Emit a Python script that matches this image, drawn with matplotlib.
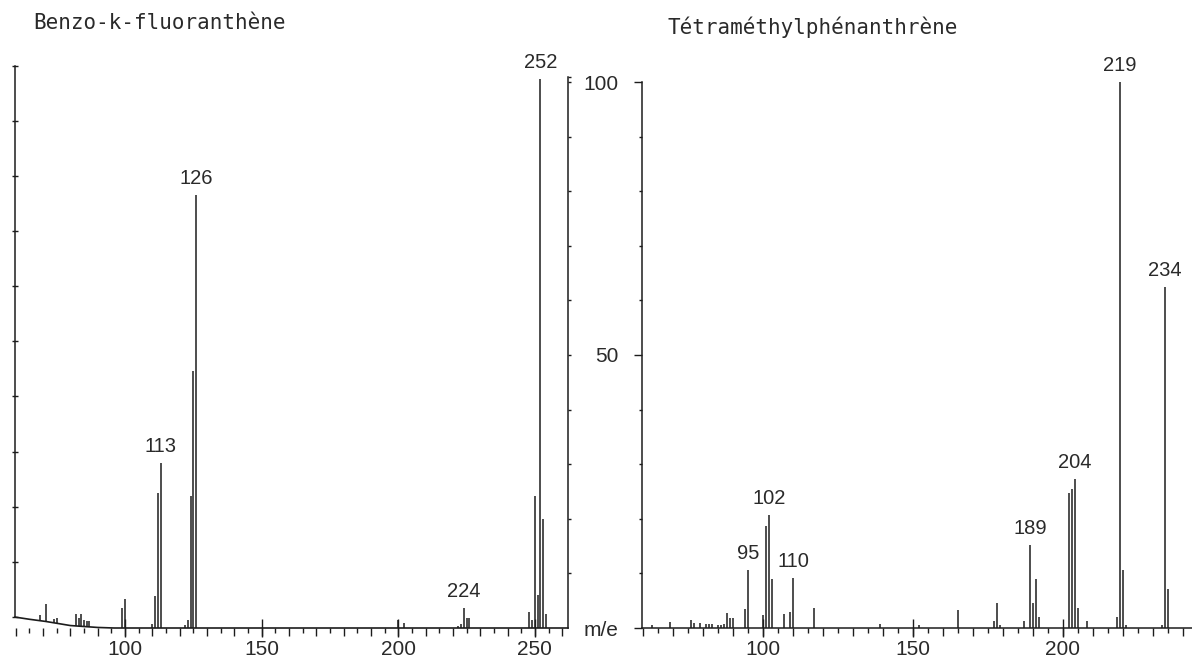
import numpy as np
import matplotlib
matplotlib.use("Agg")
import matplotlib.pyplot as plt
from matplotlib.ticker import MultipleLocator, FixedLocator

plt.rcParams['font.family'] = ['Liberation Sans', 'DejaVu Sans']

INK = '#1c1c1c'
TXT = '#2a2a2a'

# Benzo-k-fluoranthene spectrum (m/e, relative intensity)
mz_left = [69, 71, 74, 75, 82, 83, 84, 85, 86, 87, 99, 100, 110, 111, 112, 113,
           122, 123, 124, 125, 126, 200, 202, 222, 223, 224, 225, 226,
           248, 249, 250, 251, 252, 253, 254]
int_left = [2.4, 4.4, 1.6, 1.9, 2.5, 1.8, 2.5, 1.5, 1.3, 1.2, 3.7, 5.4, 0.8, 5.8, 24.7, 30.3,
            0.6, 1.4, 24.2, 47.1, 79.3, 1.5, 0.9, 0.4, 0.7, 3.7, 1.9, 1.9,
            3.0, 1.5, 24.2, 6.0, 100.5, 20.0, 2.6]
labels_left = [113, 126, 224, 252]
# drifting baseline of the recorder trace at low mass
base_mz = [59.75, 65, 71, 80, 90, 96, 262.1]
base_val = [2.0, 1.6, 1.2, 0.45, 0.1, 0.0, 0.0]

# Tetramethylphenanthrene spectrum
mz_right = [63, 69, 76, 77, 79, 81, 82, 83, 85, 86, 87, 88, 89, 90, 94, 95,
            100, 101, 102, 103, 107, 109, 110, 117, 139, 152, 165, 177, 178, 179,
            187, 189, 190, 191, 192, 202, 203, 204, 205, 208, 218, 219, 220, 221,
            233, 234, 235]
int_right = [0.5, 1.1, 1.4, 1.0, 0.9, 0.8, 0.8, 0.7, 0.5, 0.6, 0.8, 2.8, 1.9, 1.8, 3.4, 10.6,
             2.3, 18.7, 20.7, 9.0, 2.6, 3.0, 9.1, 3.7, 0.8, 0.6, 3.3, 1.2, 4.6, 0.6,
             1.2, 15.2, 4.5, 8.9, 2.0, 24.8, 25.4, 27.3, 3.6, 1.3, 2.0, 100.0, 10.6, 0.6,
             0.5, 62.5, 7.1]
labels_right = [95, 102, 110, 189, 204, 219, 234]

fig = plt.figure(figsize=(11.92, 6.58), dpi=100)
axL = fig.add_axes([15 / 1192, 30 / 658, 553 / 1192, 573.3 / 658])
axR = fig.add_axes([642 / 1192, 30 / 658, 550 / 1192, 573.3 / 658])


def x_ticks(ax, big):
    ax.xaxis.set_major_locator(MultipleLocator(10))
    ax.xaxis.set_minor_locator(MultipleLocator(5))
    ax.xaxis.set_major_formatter(lambda v, p: f"{v:.0f}" if round(v) % 50 == 0 else "")
    ax.tick_params(axis='x', which='major', direction='out', length=5.5, width=1.0,
                   color=INK, labelsize=15, labelcolor=TXT, pad=3)
    ax.tick_params(axis='x', which='minor', direction='out', length=3.5, width=1.0, color=INK)
    # the round-number ticks cross the baseline
    sec = ax.secondary_xaxis(0)
    sec.set_xticks(big)
    sec.tick_params(direction='inout', length=13, width=1.0, color=INK, labelbottom=False)
    sec.spines['bottom'].set_visible(False)


# ---- left panel
axL.set_xlim(59.75, 262.1)
axL.set_ylim(0, 105)
y0 = np.interp(mz_left, base_mz, base_val)
axL.vlines(mz_left, y0, int_left, color=INK, lw=1.1)
axL.plot(base_mz, base_val, color=INK, lw=1.2, clip_on=False)
for s in ['top', 'bottom']:
    axL.spines[s].set_visible(False)
axL.spines['left'].set_bounds(2.0, 103)
axL.spines['right'].set_bounds(0, 100.9)
for s in ['left', 'right']:
    axL.spines[s].set_color(INK)
    axL.spines[s].set_linewidth(1.1)
axL.yaxis.set_major_locator(FixedLocator(list(np.linspace(2.0, 103, 11))))
axL.tick_params(axis='y', which='major', left=True, right=False, direction='inout',
                length=4, width=1.0, color=INK, labelleft=False)
axL.yaxis.set_minor_locator(FixedLocator(list(range(10, 101, 10)) + [100.9]))
axL.tick_params(axis='y', which='minor', left=False, right=True, direction='out',
                length=2.5, width=1.0, color=INK)
x_ticks(axL, [100, 150, 200, 250])
for m in labels_left:
    axL.annotate(str(m), (m, int_left[mz_left.index(m)]), xytext=(0, 5),
                 textcoords='offset points', ha='center', va='bottom',
                 fontsize=14.5, color=TXT)

# ---- right panel
axR.set_xlim(59.67, 243.0)
axR.set_ylim(0, 105)
axR.vlines(mz_right, 0, int_right, color=INK, lw=1.1)
for s in ['top', 'right']:
    axR.spines[s].set_visible(False)
axR.spines['left'].set_bounds(0, 100)
for s in ['left', 'bottom']:
    axR.spines[s].set_color(INK)
    axR.spines[s].set_linewidth(1.1)
axR.set_yticks([0, 50, 100], ['m/e', '50', '100'])
axR.yaxis.set_minor_locator(MultipleLocator(10))
axR.tick_params(axis='y', which='major', direction='out', length=6, width=1.0,
                color=INK, labelsize=15, labelcolor=TXT, pad=11)
axR.tick_params(axis='y', which='minor', direction='out', length=2.5, width=1.0, color=INK)
x_ticks(axR, [100, 150, 200])
for m in labels_right:
    axR.annotate(str(m), (m, int_right[mz_right.index(m)]), xytext=(0, 5),
                 textcoords='offset points', ha='center', va='bottom',
                 fontsize=14.5, color=TXT)

# titles: monospaced face mimics the wide letter spacing of the original lettering
fig.text(33 / 1192, 1 - 23 / 658, 'Benzo-k-fluoranthène', fontsize=15,
         color=TXT, ha='left', va='center', family='DejaVu Sans Mono')
fig.text(667 / 1192, 1 - 27 / 658, 'Tétraméthylphénanthrène', fontsize=15,
         color=TXT, ha='left', va='center', family='DejaVu Sans Mono')

fig.savefig('out.png', dpi=100, facecolor='white')
